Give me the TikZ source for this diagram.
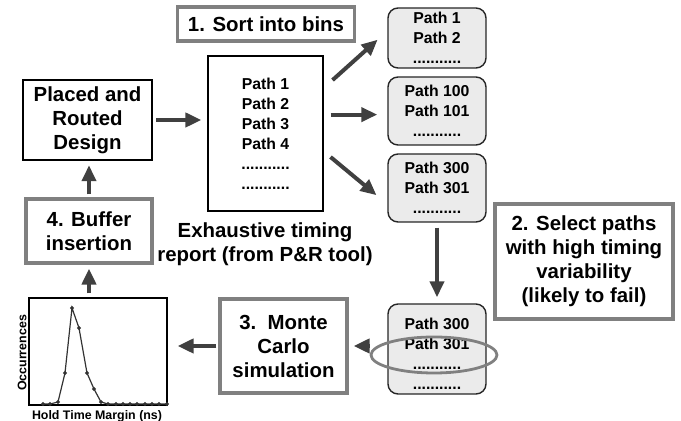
\documentclass[tikz,border=0pt]{standalone}
\usepackage{fontspec}
\setmainfont{Liberation Sans}
\usetikzlibrary{arrows.meta,shapes.geometric}
\newcommand{\bigtxt}{\fontsize{10.2}{12}\selectfont\bfseries}
\newcommand{\pathtxt}{\fontsize{7.9}{10}\selectfont\bfseries}
\newcommand{\axtxt}{\fontsize{6.2}{7}\selectfont\bfseries}
\begin{document}
\begin{tikzpicture}[x=0.5pt,y=-0.5pt,>={Triangle[length=8pt,width=7pt]}]
\tikzstyle{stepbox}=[draw=gray,line width=1.6pt,fill=white,align=center,font=\bigtxt,inner sep=1pt]
\tikzstyle{bin}=[draw=black!85,line width=0.7pt,fill=gray!16,rounded corners=5pt,align=center,font=\pathtxt,minimum width=49pt,inner sep=0pt]
\tikzstyle{arr}=[->,draw=black!75,line width=2pt]
\useasboundingbox (0,0) rectangle (681,421);
% steps and report
\node[stepbox,minimum width=88.5pt,minimum height=17pt](s1) at (266,24) {1. Sort into bins};
\node[draw,line width=1pt,align=center,font=\bigtxt,minimum width=64.5pt,minimum height=40pt](pr) at (87.5,120) {Placed and\\Routed\\Design};
\node[draw,line width=0.6pt,align=center,font=\pathtxt,minimum width=57.5pt,minimum height=77.5pt](rep) at (265.5,133.5) {Path 1\\Path 2\\Path 3\\Path 4\\...........\\...........};
\node[align=center,font=\bigtxt](exh) at (265,244) {Exhaustive timing\\report (from P\&R tool)};
\node[stepbox,minimum width=89pt,minimum height=57.5pt](s2) at (584,261.5) {2. Select paths\\with high timing\\variability\\(likely to fail)};
\node[stepbox,minimum width=63.5pt,minimum height=47pt](s3) at (283.5,346) {3.\ \ Monte\\Carlo\\simulation};
\node[stepbox,minimum width=63pt,minimum height=32pt](s4) at (89,231) {4. Buffer\\insertion};
% bins
\node[bin,minimum height=30pt](b1) at (437,38) {Path 1\\Path 2\\...........};
\node[bin,minimum height=34pt](b2) at (437,111) {Path 100\\Path 101\\...........};
\node[bin,minimum height=34pt](b3) at (437,188) {Path 300\\Path 301\\...........};
\node[bin,minimum height=45pt](b4) at (437,349) {\rule{0pt}{11pt}Path 300\\Path 301\\...........\\...........};
\node[ellipse,draw=gray,line width=1.4pt,minimum width=63pt,minimum height=18pt,inner sep=0pt](sel) at (434,355) {};
% histogram
\node[draw,line width=0.6pt,minimum width=69pt,minimum height=53.5pt](hist) at (98,351.5) {};
\node[rotate=90,font=\axtxt,inner sep=0pt](ylab) at (22,353) {Occurrences};
\node[font=\axtxt,inner sep=0pt](xlab) at (97,416) {Hold Time Margin (ns)};
\draw[black!80,line width=0.6pt] plot[mark=*,mark size=0.6pt] coordinates {(43,404) (50,404) (58,402) (65,373) (72,308) (79,328) (87,373) (94,389) (101,402) (108,404) (116,404) (123,404) (130,404) (137,404) (145,404) (152,404) (159,404) (167,404)};
% arrows
\draw[arr,shorten <=1.5pt,shorten >=3pt] (pr.east) -- (pr.east -| rep.west);
\draw[arr,shorten <=6pt,shorten >=6.5pt] (rep.38) -- (b1.172);
\draw[arr,shorten <=3.5pt,shorten >=5pt] (rep.18) -- (rep.18 -| b2.west);
\draw[arr,shorten <=4.5pt,shorten >=7pt] (rep.-17) -- (b3.198);
\draw[arr,shorten <=2.5pt,shorten >=3pt] (b3.south) -- (b4.north);
\draw[arr,shorten >=2.5pt] (sel.west |- s3.east) -- (s3.east);
\draw[arr,shorten <=1pt,shorten >=5pt] (s3.west) -- (hist.east |- s3.west);
\draw[arr,shorten <=2pt,shorten >=2pt] (hist.north -| s4.south) -- (s4.south);
\draw[arr,shorten <=1.5pt,shorten >=2pt] (s4.north) -- (pr.south -| s4.north);
\end{tikzpicture}
\end{document}
